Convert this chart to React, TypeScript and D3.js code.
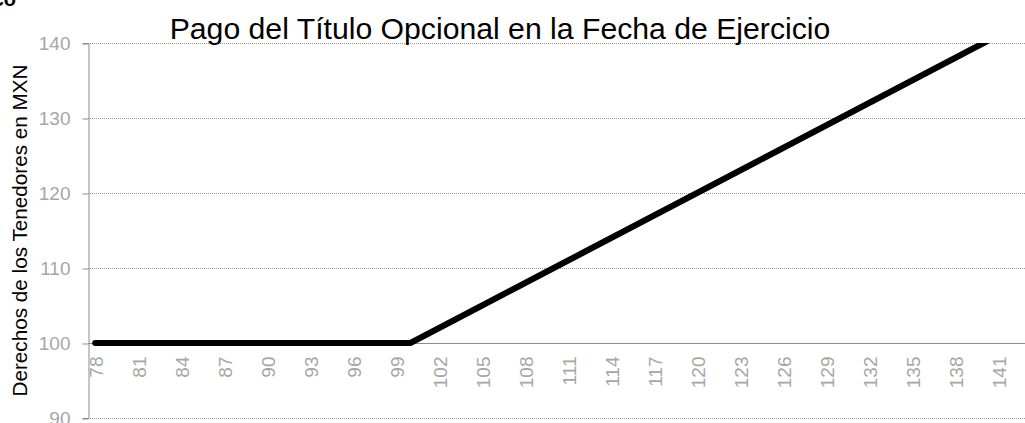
import React, { useEffect, useRef } from 'react';
import * as d3 from 'd3';

// strike prices on the category axis
const categories: number[] = [
  78, 79, 80, 81, 82, 83, 84, 85, 86, 87, 88, 89, 90, 91, 92, 93, 94, 95, 96, 97, 98, 99, 100,
  101, 102, 103, 104, 105, 106, 107, 108, 109, 110, 111, 112, 113, 114, 115, 116, 117, 118, 119,
  120, 121, 122, 123, 124, 125, 126, 127, 128, 129, 130, 131, 132, 133, 134, 135, 136, 137, 138,
  139, 140, 141, 142, 143,
];

// payoff to holders (MXN)
const payoff: number[] = [
  100, 100, 100, 100, 100, 100, 100, 100, 100, 100, 100, 100, 100, 100, 100, 100, 100, 100, 100,
  100, 100, 100, 100, 101, 102, 103, 104, 105, 106, 107, 108, 109, 110, 111, 112, 113, 114, 115,
  116, 117, 118, 119, 120, 121, 122, 123, 124, 125, 126, 127, 128, 129, 130, 131, 132, 133, 134,
  135, 136, 137, 138, 139, 140, 141, 142, 143,
];

const yTicks: number[] = [90, 100, 110, 120, 130, 140];
const xLabelEvery = 3;

const title = 'Pago del Título Opcional en la Fecha de Ejercicio';
const yTitle = 'Derechos de los Tenedores en MXN';

const W = 1025;
const H = 423;

const App: React.FC = () => {
  const svgRef = useRef<SVGSVGElement>(null);

  useEffect(() => {
    if (!svgRef.current) return;
    const svg = d3.select(svgRef.current);
    svg.selectAll('*').remove();

    const left = 88;
    const top = 43;
    const bottom = 418;
    const step = 14.33;
    const right = left + step * categories.length;

    const x = d3.scaleBand<string>()
      .domain(categories.map(String))
      .range([left, right])
      .padding(0);
    const y = d3.scaleLinear().domain([90, 140]).range([bottom, top]);

    const font = 'Liberation Sans, Arial, sans-serif';
    const grey = '#a6a6a6';

    svg.append('defs').append('clipPath').attr('id', 'plot-clip')
      .append('rect')
      .attr('x', left).attr('y', top)
      .attr('width', right - left).attr('height', bottom - top);

    // gridlines (dotted), skip the 100 line which is the category axis
    svg.append('g')
      .selectAll('line')
      .data(yTicks.filter(t => t !== 100))
      .enter()
      .append('line')
      .attr('x1', left).attr('x2', right)
      .attr('y1', d => Math.round(y(d)) + 0.5).attr('y2', d => Math.round(y(d)) + 0.5)
      .attr('stroke', '#9a9a9a')
      .attr('stroke-width', 1)
      .attr('stroke-dasharray', '1,1');

    // y axis
    const yAxis = svg.append('g').attr('transform', `translate(${left + 0.5},0)`)
      .call(d3.axisLeft(y).tickValues(yTicks).tickSize(6).tickPadding(12));
    yAxis.select('.domain').attr('stroke', '#8c8c8c');
    yAxis.selectAll('.tick line').attr('stroke', '#8c8c8c')
      .attr('transform', 'translate(0,0.5)');
    yAxis.selectAll('.tick text')
      .attr('fill', grey)
      .attr('font-family', font)
      .attr('font-size', 19);

    // category axis crossing at 100
    const y100 = Math.round(y(100)) + 0.5;
    svg.append('line')
      .attr('x1', left).attr('x2', right)
      .attr('y1', y100).attr('y2', y100)
      .attr('stroke', '#8c8c8c').attr('stroke-width', 1);

    svg.append('g')
      .selectAll('text')
      .data(categories.filter((_, i) => i % xLabelEvery === 0))
      .enter()
      .append('text')
      .attr('transform', d => `translate(${(x(String(d)) || 0) + x.bandwidth() / 2 + 1},${y100 + 13}) rotate(-90)`)
      .attr('text-anchor', 'end')
      .attr('dy', '0.35em')
      .attr('fill', grey)
      .attr('font-family', font)
      .attr('font-size', 19)
      .text(d => String(d));

    // payoff line
    const line = d3.line<number>()
      .x((_, i) => (x(String(categories[i])) || 0) + x.bandwidth() / 2)
      .y(d => y(d));

    svg.append('path')
      .datum(payoff)
      .attr('clip-path', 'url(#plot-clip)')
      .attr('d', line)
      .attr('fill', 'none')
      .attr('stroke', '#000')
      .attr('stroke-width', 6)
      .attr('stroke-linecap', 'round')
      .attr('stroke-linejoin', 'miter');

    // titles
    svg.append('text')
      .attr('x', 500).attr('y', 39)
      .attr('text-anchor', 'middle')
      .attr('font-family', font)
      .attr('font-size', 30.2)
      .attr('fill', '#000')
      .text(title);

    svg.append('text')
      .attr('transform', `translate(27,${(top + bottom) / 2}) rotate(-90)`)
      .attr('text-anchor', 'middle')
      .attr('font-family', font)
      .attr('font-size', 20.7)
      .attr('fill', '#000')
      .text(yTitle);

    // cropped heading fragment at the top-left corner
    svg.append('text')
      .attr('x', 16).attr('y', 6)
      .attr('text-anchor', 'end')
      .attr('font-family', font)
      .attr('font-weight', 'bold')
      .attr('font-size', 20)
      .attr('fill', '#000')
      .text('Gráfico');
  }, []);

  return (
    <svg
      ref={svgRef}
      width={W}
      height={H}
      style={{ position: 'absolute', left: 0, top: 0, background: '#fff' }}
    />
  );
};

export default App;
